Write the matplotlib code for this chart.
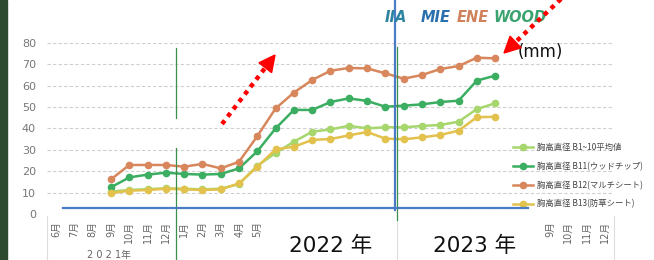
import matplotlib
matplotlib.use("Agg")
import matplotlib.pyplot as plt
from matplotlib.lines import Line2D
from matplotlib.patches import Rectangle, Polygon

plt.rcParams['font.family'] = ['DejaVu Sans', 'Noto Sans CJK JP']

W, H = 654, 260

# x categories: 2021/6 .. 2023/12
months = [6, 7, 8, 9, 10, 11, 12] + list(range(1, 13)) + list(range(1, 13))
month_labels = [f"{m}月" for m in months]
hidden_labels = range(12, 27)  # covered by the big year captions
start_idx = 3  # first measurement: 2021/9

b1_10_avg = [10.5, 11.2, 11.6, 12.0, 11.8, 11.5, 11.8, 14.0, 22.5, 28.5, 33.8,
             38.4, 39.5, 41.2, 40.0, 40.5, 40.5, 41.1, 41.6, 43.1, 49.0, 51.7]
b11_chip = [12.5, 17.1, 18.4, 19.3, 18.7, 18.4, 18.7, 21.3, 29.3, 40.0, 48.6,
            48.6, 52.3, 54.0, 52.8, 50.1, 50.6, 51.2, 52.3, 52.9, 62.3, 64.6]
b12_multi = [16.2, 22.9, 22.9, 22.9, 22.1, 23.4, 21.3, 24.4, 36.4, 49.3, 56.7,
             62.6, 66.9, 68.2, 68.0, 65.7, 63.2, 64.9, 67.7, 69.1, 73.0, 72.7]
b13_sheet = [9.7, 10.9, 11.2, 11.8, 11.5, 11.2, 11.5, 14.3, 22.1, 30.2, 31.4,
             34.6, 35.0, 36.7, 38.3, 35.2, 34.9, 35.8, 36.9, 38.9, 45.2, 45.4]

series = [
    ("胸高直径 B1~10平均値", b1_10_avg, "#a6d66c"),
    ("胸高直径 B11(ウッドチップ)", b11_chip, "#3bae62"),
    ("胸高直径 B12(マルチシート)", b12_multi, "#d8875c"),
    ("胸高直径 B13(防草シート)", b13_sheet, "#e2c24c"),
]


def fx(x):
    return x / W


def fy(y):
    return 1 - y / H


fig = plt.figure(figsize=(W / 100, H / 100), dpi=100)
fig.patch.set_facecolor("white")
ax = fig.add_axes([fx(47), fy(214), (614 - 47) / W, (214 - 42.7) / H])

handles = []
for name, vals, col in series:
    xs = list(range(start_idx, start_idx + len(vals)))
    ln, = ax.plot(xs, vals, color=col, lw=1.8, marker="o", ms=4.5,
                  markeredgecolor=col, label=name)
    handles.append(ln)

ax.set_xlim(-0.5, len(months) - 0.5)
ax.set_ylim(0, 80)
ax.set_yticks(range(0, 81, 10))
ax.set_xticks(range(len(months)))
ax.set_xticklabels(month_labels, rotation=90, fontsize=7, color="#666666",
                   va="top")
for i, lab in enumerate(ax.get_xticklabels()):
    if i in hidden_labels:
        lab.set_visible(False)
ax.tick_params(axis="y", labelsize=8, colors="#777777", length=0, pad=8)
ax.tick_params(axis="x", length=0, pad=5)
for s in ax.spines.values():
    s.set_visible(False)
ax.grid(axis="y", color="#cfcfcf", lw=0.8, ls=(0, (3, 2)))
ax.set_axisbelow(True)

leg = ax.legend(handles=handles, loc="upper left",
                bbox_to_anchor=(fx(510), fy(140)), bbox_transform=fig.transFigure,
                frameon=False, fontsize=6, handlelength=2.4, handletextpad=0.4,
                labelspacing=1.15, borderaxespad=0)
for t in leg.get_texts():
    t.set_color("#444444")
    t.set_family(['Noto Sans CJK JP', 'DejaVu Sans'])

# dark photo edge on the left
fig.add_artist(Rectangle((0, 0), fx(7), 1, transform=fig.transFigure,
                         color="#2d4a31", zorder=10))

# faint frame lines of the label area
for x0 in (47, 397, 614):
    fig.add_artist(Line2D([fx(x0), fx(x0)], [fy(216), fy(260)], color="#dddddd",
                          lw=0.8, transform=fig.transFigure, zorder=4))

for txt, xc in [("2022 年", 331), ("2023 年", 475)]:
    fig.text(fx(xc), fy(245.5), txt, ha="center", va="center", fontsize=15.5,
             family=['DejaVu Sans', 'Noto Sans CJK JP'], color="#111111",
             zorder=7)

fig.text(fx(87), fy(250), "2 0 2 1年", ha="left", va="top", fontsize=7,
         color="#666666", zorder=7)

# thin green vertical markers
for x0, y0, y1 in [(176, 48, 118), (176, 148, 260), (397, 47, 220)]:
    fig.add_artist(Line2D([fx(x0), fx(x0)], [fy(y0), fy(y1)], color="#3c8f48",
                          lw=0.9, transform=fig.transFigure, zorder=6))

# blue lines
fig.add_artist(Line2D([fx(63), fx(528)], [fy(208), fy(208)], color="#4a7cc6",
                      lw=1.6, transform=fig.transFigure, zorder=6))
fig.add_artist(Line2D([fx(395), fx(395)], [fy(0), fy(210)], color="#4a7cc6",
                      lw=1.6, transform=fig.transFigure, zorder=6))

# red dotted arrows
for (x0, y0), (bx, by), tip, c1, c2 in [
        ((222, 124), (265.3, 67.7), (275, 55), (271.6, 72.6), (259, 62.8)),
        ((562, -2), (515.6, 42), (504, 53), (521.1, 47.8), (510.1, 36.2))]:
    fig.add_artist(Line2D([fx(x0), fx(bx)], [fy(y0), fy(by)], color="#ff0000",
                          lw=3.2, ls=(0, (1, 1.1)), dash_capstyle="butt",
                          transform=fig.transFigure, zorder=8))
    fig.add_artist(Polygon([(fx(tip[0]), fy(tip[1])), (fx(c1[0]), fy(c1[1])),
                            (fx(c2[0]), fy(c2[1]))], closed=True,
                           color="#ff0000", transform=fig.transFigure, zorder=8))

fig.text(fx(540), fy(52), "(mm)", ha="center", va="center", fontsize=12,
         color="#111111", zorder=7)

# logo
logo_parts = [("IIA", 385, "#2c84a0"), ("MIE", 421, "#2a6fae"),
              ("ENE", 457, "#d0815a"), ("WOOD", 493, "#3aa36f")]
for txt, x0, col in logo_parts:
    fig.text(fx(x0), fy(18), txt, ha="left", va="center", fontsize=10.5,
             fontweight="bold", fontstyle="italic", color=col, zorder=7)

fig.savefig("out.png", dpi=100)
